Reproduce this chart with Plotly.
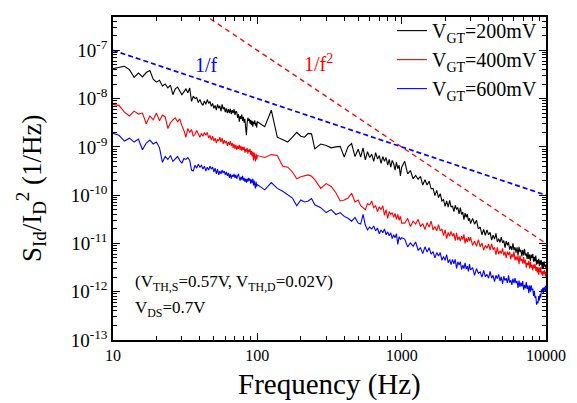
import plotly.graph_objects as go

# ---------------- data ----------------
# frequency grid (Hz), three segments
freq_low = [10, 11, 12, 13, 14, 15, 16, 17, 18, 19, 20, 21, 22, 23, 24, 25, 26, 27, 28, 29,
            30, 31, 32, 33, 34, 35, 36, 37, 38, 39, 40, 41, 42, 43, 44, 45, 46, 47, 48, 49,
            50, 51, 52, 53, 54, 55, 56, 57, 58, 59, 60, 61, 62, 63, 64, 65, 66, 67, 68, 69,
            70, 71, 72, 73, 74, 75, 76, 77, 78, 79, 80, 81, 82, 83, 84, 85, 86, 87, 88, 89,
            90, 91, 92, 93, 94, 95, 96, 97, 98, 99, 100]
freq_mid = [112.5, 125, 137.5, 150, 162.5, 175, 187.5, 200, 212.5, 225, 237.5, 250,
            275, 300, 325, 350, 375, 400, 425, 450, 475, 500,
            520, 540, 560, 580, 600, 620, 640, 660, 680, 700, 720, 740, 760, 780, 800,
            820, 840, 860, 880, 900, 920, 940, 960, 980, 1000]
freq_high = [1050, 1100, 1150, 1200, 1250, 1300, 1350, 1400, 1450, 1500, 1550, 1600, 1650,
             1700, 1750, 1800, 1850, 1900, 1950, 2000, 2050, 2100, 2150, 2200, 2250, 2300,
             2350, 2400, 2450, 2500, 2550, 2600, 2650, 2700, 2750, 2800, 2850, 2900, 2950, 3000,
             3100, 3200, 3300, 3400, 3500, 3600, 3700, 3800, 3900, 4000, 4100, 4200, 4300, 4400,
             4500, 4600, 4700, 4800, 4900, 5000, 5100, 5200, 5300, 5400, 5500, 5600, 5700, 5800,
             5900, 6000, 6100, 6200, 6300, 6400, 6500, 6600, 6700, 6800, 6900, 7000, 7100, 7200,
             7300, 7400, 7500, 7600, 7700, 7800, 7900, 8000, 8100, 8200, 8300, 8400, 8500, 8600,
             8700, 8800, 8900, 9000, 9100, 9200, 9300, 9400, 9500, 9600, 9700, 9800, 9900, 10000]

# log10 of S_Id/I_D^2 (1/Hz), V_GT = 200 mV
log_s200_low = [-7.38, -7.36, -7.33, -7.40, -7.56, -7.47, -7.55, -7.46, -7.42, -7.60,
                -7.66, -7.62, -7.74, -7.70, -7.78, -7.72, -7.92, -7.80, -7.76, -7.84,
                -7.92, -7.86, -7.80, -7.88, -7.78, -8.06, -7.95, -8.00, -7.98, -8.08,
                -8.02, -8.10, -8.14, -8.05, -8.12, -8.02, -8.10, -8.06, -8.16, -8.10,
                -8.20, -8.14, -8.24, -8.12, -8.20, -8.15, -8.26, -8.12, -8.22, -8.18,
                -8.28, -8.20, -8.30, -8.22, -8.30, -8.21, -8.32, -8.24, -8.30, -8.22,
                -8.34, -8.26, -8.28, -8.40, -8.32, -8.48, -8.36, -8.42, -8.33, -8.46,
                -8.38, -8.50, -8.42, -8.60, -8.76, -8.50, -8.40, -8.46, -8.42, -8.52,
                -8.44, -8.55, -8.46, -8.58, -8.48, -8.52, -8.45, -8.56, -8.50, -8.60, -8.48]
log_s200_mid = [-8.58, -8.24, -8.80, -8.85, -8.90, -8.80, -8.70, -8.78, -8.80, -8.72, -8.73, -9.04,
                -8.94, -8.97, -9.02, -9.00, -8.99, -9.21, -9.00, -8.93, -9.20, -9.05,
                -9.21, -9.02, -9.27, -9.10, -9.22, -9.15, -9.30, -9.12, -9.25, -9.18, -9.34,
                -9.20, -9.30, -9.22, -9.38, -9.26, -9.42, -9.28, -9.35, -9.48, -9.32, -9.45,
                -9.38, -9.60, -9.42]
log_s200_high = [-9.30, -9.56, -9.49, -9.66, -9.59, -9.67, -9.61, -9.79, -9.68, -9.79,
                 -9.71, -9.87, -9.86, -10.01, -9.90, -10.05, -9.97, -10.12, -10.09, -10.23,
                 -10.12, -10.25, -10.11, -10.25, -10.22, -10.34, -10.21, -10.29, -10.26, -10.39,
                 -10.26, -10.40, -10.35, -10.51, -10.37, -10.46, -10.39, -10.53, -10.48, -10.59,
                 -10.48, -10.60, -10.52, -10.70, -10.66, -10.82, -10.71, -10.83, -10.72, -10.82,
                 -10.77, -10.93, -10.83, -10.91, -10.79, -10.97, -10.90, -10.98, -10.87, -10.99,
                 -10.94, -11.09, -10.95, -11.04, -10.97, -11.13, -11.05, -11.14, -11.00, -11.14,
                 -11.08, -11.19, -11.08, -11.25, -11.07, -11.18, -11.13, -11.27, -11.13, -11.25,
                 -11.11, -11.25, -11.21, -11.32, -11.18, -11.32, -11.23, -11.37, -11.23, -11.30,
                 -11.22, -11.38, -11.28, -11.37, -11.25, -11.44, -11.34, -11.42, -11.32, -11.47,
                 -11.35, -11.44, -11.35, -11.53, -11.40, -11.51, -11.37, -11.48, -11.44, -11.52]

# V_GT = 400 mV
log_s400_low = [-8.12, -8.14, -8.28, -8.36, -8.26, -8.32, -8.30, -8.52, -8.36, -8.44,
                -8.30, -8.46, -8.34, -8.38, -8.62, -8.50, -8.44, -8.40, -8.48, -8.42,
                -8.56, -8.66, -8.80, -8.62, -8.70, -8.64, -8.78, -8.74, -8.66, -8.72,
                -8.80, -8.72, -8.78, -8.70, -8.76, -8.70, -8.82, -8.76, -8.86, -8.78,
                -8.88, -8.82, -8.92, -8.84, -8.88, -8.80, -8.90, -8.82, -8.94, -8.86,
                -8.92, -8.88, -8.98, -8.90, -8.96, -8.88, -8.98, -8.92, -9.02, -8.94,
                -9.04, -8.96, -9.06, -8.98, -9.04, -8.96, -9.06, -8.98, -9.08, -9.00,
                -9.06, -9.00, -9.12, -9.04, -9.10, -9.02, -9.14, -9.06, -9.10, -9.04,
                -9.16, -9.08, -9.20, -9.10, -9.28, -9.12, -9.22, -9.30, -9.14, -9.26, -9.18]
log_s400_mid = [-9.22, -9.16, -9.18, -9.40, -9.42, -9.52, -9.66, -9.62, -9.60, -9.58, -9.61, -9.68,
                -9.86, -9.76, -9.82, -9.95, -10.12, -10.10, -10.06, -9.96, -10.14, -10.10,
                -10.22, -10.26, -10.30, -10.18, -10.20, -10.12, -10.26, -10.22, -10.34, -10.24,
                -10.30, -10.22, -10.42, -10.30, -10.48, -10.34, -10.40, -10.36, -10.46, -10.38,
                -10.50, -10.40, -10.52, -10.44, -10.58]
log_s400_high = [-10.58, -10.48, -10.65, -10.54, -10.60, -10.50, -10.65, -10.59, -10.71, -10.57,
                 -10.66, -10.54, -10.72, -10.65, -10.74, -10.61, -10.74, -10.70, -10.84, -10.72,
                 -10.90, -10.77, -10.85, -10.75, -10.85, -10.79, -10.94, -10.78, -10.93, -10.86,
                 -10.95, -10.85, -10.92, -10.81, -11.00, -10.89, -10.97, -10.87, -10.95, -10.87,
                 -11.04, -10.95, -11.06, -10.92, -11.07, -10.99, -11.14, -11.04, -11.10, -11.01,
                 -11.14, -11.01, -11.13, -11.08, -11.23, -11.08, -11.22, -11.15, -11.21, -11.10,
                 -11.25, -11.17, -11.30, -11.17, -11.24, -11.17, -11.33, -11.22, -11.29, -11.17,
                 -11.35, -11.27, -11.35, -11.25, -11.43, -11.25, -11.36, -11.32, -11.42, -11.28,
                 -11.42, -11.34, -11.50, -11.40, -11.45, -11.36, -11.52, -11.38, -11.50, -11.44,
                 -11.56, -11.44, -11.51, -11.42, -11.57, -11.49, -11.60, -11.49, -11.65, -11.50,
                 -11.60, -11.49, -11.64, -11.58, -11.68, -11.57, -11.63, -11.55, -11.69, -11.59]

# V_GT = 600 mV
log_s600_low = [-8.72, -8.76, -8.88, -8.82, -8.90, -8.84, -9.06, -8.92, -8.86, -8.94,
                -8.90, -9.02, -9.32, -9.20, -9.26, -9.18, -9.30, -9.24, -9.20, -9.28,
                -9.34, -9.24, -9.26, -9.22, -9.28, -9.48, -9.50, -9.38, -9.44, -9.36,
                -9.42, -9.38, -9.46, -9.40, -9.50, -9.42, -9.48, -9.40, -9.46, -9.42,
                -9.52, -9.44, -9.56, -9.46, -9.58, -9.50, -9.56, -9.48, -9.54, -9.50,
                -9.58, -9.52, -9.60, -9.54, -9.64, -9.56, -9.66, -9.58, -9.62, -9.56,
                -9.64, -9.58, -9.66, -9.60, -9.56, -9.64, -9.70, -9.62, -9.68, -9.60,
                -9.70, -9.64, -9.72, -9.66, -9.74, -9.66, -9.72, -9.64, -9.70, -9.66,
                -9.76, -9.68, -9.74, -9.66, -9.80, -9.70, -9.76, -9.86, -9.72, -9.82, -9.78]
log_s600_mid = [-9.89, -9.74, -9.86, -9.92, -9.99, -10.06, -10.22, -10.10, -10.14, -10.12, -10.07, -10.20,
                -10.26, -10.36, -10.30, -10.40, -10.36, -10.44, -10.48, -10.54, -10.46, -10.58,
                -10.60, -10.40, -10.62, -10.72, -10.66, -10.70, -10.64, -10.74, -10.68, -10.80,
                -10.72, -10.78, -10.70, -10.82, -10.76, -10.84, -10.78, -10.90, -10.82, -10.88,
                -10.80, -11.02, -10.86, -10.92, -10.88]
log_s600_high = [-10.91, -11.07, -10.99, -11.06, -10.97, -11.14, -11.09, -11.21, -11.07, -11.18,
                 -11.09, -11.22, -11.17, -11.30, -11.19, -11.26, -11.19, -11.35, -11.27, -11.35,
                 -11.23, -11.40, -11.33, -11.44, -11.33, -11.42, -11.33, -11.52, -11.38, -11.45,
                 -11.38, -11.54, -11.45, -11.52, -11.40, -11.53, -11.47, -11.58, -11.43, -11.55,
                 -11.50, -11.66, -11.52, -11.62, -11.59, -11.70, -11.56, -11.69, -11.64, -11.72,
                 -11.58, -11.72, -11.66, -11.79, -11.66, -11.73, -11.64, -11.78, -11.69, -11.84,
                 -11.68, -11.77, -11.72, -11.82, -11.66, -11.81, -11.76, -11.86, -11.73, -11.82,
                 -11.72, -11.82, -11.78, -11.92, -11.77, -11.90, -11.81, -11.89, -11.78, -11.96,
                 -11.86, -11.93, -11.80, -11.94, -11.87, -12.03, -11.87, -12.00, -11.87, -11.97,
                 -11.94, -12.09, -11.98, -12.13, -12.09, -12.27, -12.20, -12.24, -12.09, -12.18,
                 -12.05, -12.12, -11.95, -12.01, -11.92, -12.03, -11.91, -11.98, -11.88, -11.99]

series_names = ["V<sub>GT</sub>=200mV", "V<sub>GT</sub>=400mV", "V<sub>GT</sub>=600mV"]
series_colors = ["#000000", "#ff0000", "#0000ff"]

# reference slopes
ref_freq = [10, 10000]
ref_1f = [1e-7, 1e-10]
ref_1f2 = [1e-5, 1e-11]

x_tick_vals = [10, 100, 1000, 10000]
x_tick_text = ["10", "100", "1000", "10000"]
y_exponents = [-13, -12, -11, -10, -9, -8, -7]

# ---------------- figure ----------------
freq = freq_low + freq_mid + freq_high
all_logs = [log_s200_low + log_s200_mid + log_s200_high,
            log_s400_low + log_s400_mid + log_s400_high,
            log_s600_low + log_s600_mid + log_s600_high]

FONT = "Liberation Serif"
fig = go.Figure()

for name, col, logs in zip(series_names, series_colors, all_logs):
    n = min(len(logs), len(freq))
    fig.add_trace(go.Scatter(x=freq[:n], y=[10 ** v for v in logs[:n]], mode="lines", name=name,
                             line=dict(color=col, width=1.1)))

fig.add_trace(go.Scatter(x=ref_freq, y=ref_1f, mode="lines", showlegend=False,
                         line=dict(color="#0000ff", width=1.7, dash="5px,3px")))
fig.add_trace(go.Scatter(x=ref_freq, y=ref_1f2, mode="lines", showlegend=False,
                         line=dict(color="#ff0000", width=1.3, dash="5px,4px")))

x_minor = [m * 10 ** d for d in range(1, 4) for m in range(2, 10)]
y_minor = [m * 10.0 ** e for e in range(-13, -6) for m in range(2, 10)]

axis_common = dict(showline=True, linecolor="black", linewidth=1.5, mirror="allticks",
                   ticks="inside", ticklen=7, tickwidth=1, tickcolor="black",
                   showgrid=False, zeroline=False)

fig.update_xaxes(type="log", range=[1, 4], tickmode="array", tickvals=x_tick_vals,
                 ticktext=x_tick_text,
                 tickfont=dict(family=FONT, size=16, color="black"),
                 minor=dict(tickmode="array", tickvals=x_minor, ticks="inside", ticklen=4,
                            tickcolor="black", showgrid=False),
                 **axis_common)
fig.update_yaxes(type="log", range=[-13, -6.31], tickmode="array",
                 tickvals=[10.0 ** e for e in y_exponents],
                 ticktext=["10<sup>%d</sup>" % e for e in y_exponents],
                 tickfont=dict(family=FONT, size=19, color="black"),
                 minor=dict(tickmode="array", tickvals=y_minor, ticks="inside", ticklen=4,
                            tickcolor="black", showgrid=False),
                 **axis_common)

W, H = 577, 403
L, R, T, B = 112.5, 549.5, 11, 340
def px(x):
    return (x - L) / (R - L)
def py(y):
    return (B - y) / (B - T)

annotations = [
    dict(text="Frequency (Hz)", x=px(331), y=py(385), font=dict(size=29)),
    dict(text="S<sub>Id</sub>/I<sub>D</sub><sup>2</sup> (1/Hz)", x=px(30), y=py(185),
         textangle=-90, font=dict(size=27)),
    dict(text="1/f", x=px(207), y=py(60), font=dict(size=20, color="#0000ff")),
    dict(text="1/f<sup>2</sup>", x=px(320), y=py(58), font=dict(size=20, color="#ff0000")),
    dict(text="(V<sub>TH,S</sub>=0.57V, V<sub>TH,D</sub>=0.02V)", x=px(133), y=py(282),
         xanchor="left", font=dict(size=17)),
    dict(text="V<sub>DS</sub>=0.7V", x=px(133), y=py(308), xanchor="left", font=dict(size=17)),
]
for a in annotations:
    a.setdefault("xanchor", "center")
    a["xref"] = "paper"
    a["yref"] = "paper"
    a["showarrow"] = False
    a["yanchor"] = "middle"
    f = a["font"]
    f.setdefault("color", "black")
    f["family"] = FONT

fig.update_layout(
    width=W, height=H,
    margin=dict(l=L, r=W - R, t=T, b=H - B, pad=0),
    paper_bgcolor="white", plot_bgcolor="white",
    font=dict(family=FONT, color="black"),
    annotations=annotations,
    legend=dict(x=px(394), y=py(5), xanchor="left", yanchor="top",
                bgcolor="rgba(0,0,0,0)", font=dict(family=FONT, size=20, color="black"),
                tracegroupgap=0, itemwidth=30),
    showlegend=True,
)

fig.write_html("out.html", config={"displayModeBar": False},
               post_script="document.body.style.margin='0';")
